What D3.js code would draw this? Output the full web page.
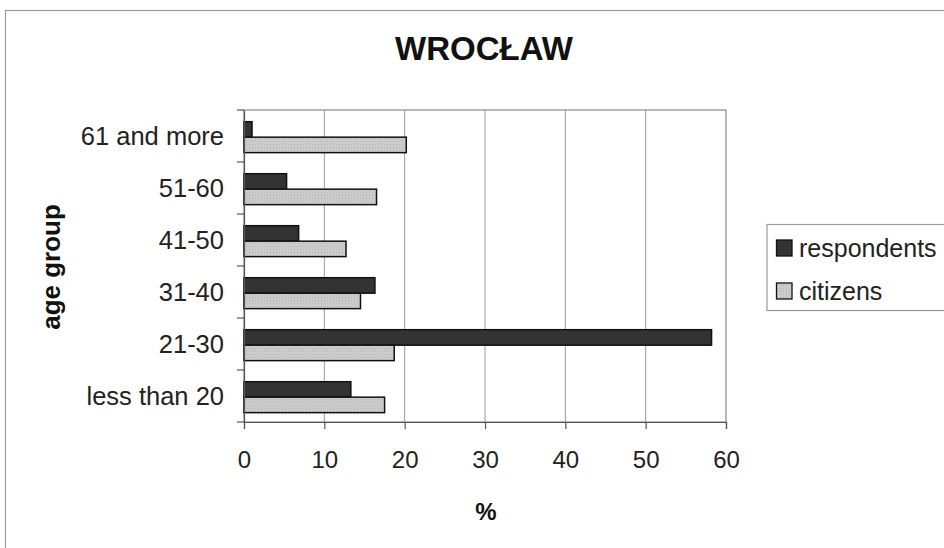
<!DOCTYPE html>
<html>
<head>
<meta charset="utf-8">
<script src="https://cdn.jsdelivr.net/npm/d3@7/dist/d3.min.js"></script>
<style>
  html, body { margin: 0; padding: 0; background: #fff; }
  text { font-family: "Liberation Sans", Arial, sans-serif; }
</style>
</head>
<body>
<svg id="chart" width="944" height="548"></svg>
<script>
const categories = ["less than 20", "21-30", "31-40", "41-50", "51-60", "61 and more"];
const seriesNames = ["respondents", "citizens"];
const respondents = [13.3, 58.2, 16.3, 6.8, 5.3, 1.0];
const citizens = [17.5, 18.7, 14.5, 12.7, 16.5, 20.2];
const xTicks = [0, 10, 20, 30, 40, 50, 60];
const title = "WROCŁAW";
const xTitle = "%";
const yTitle = "age group";

const svg = d3.select("#chart");
const plot = { left: 244, right: 726, top: 110, bottom: 422 };

// pattern for citizens
const defs = svg.append("defs");
const pat = defs.append("pattern").attr("id", "dots").attr("patternUnits", "userSpaceOnUse")
  .attr("width", 3).attr("height", 3);
pat.append("rect").attr("width", 3).attr("height", 3).attr("fill", "#cecece");
pat.append("rect").attr("x", 0).attr("y", 0).attr("width", 1).attr("height", 1).attr("fill", "#b0b0b0");
pat.append("rect").attr("x", 1.5).attr("y", 1.5).attr("width", 1).attr("height", 1).attr("fill", "#bdbdbd");

const colors = { respondents: "#333333", citizens: "url(#dots)" };

// outer frame
svg.append("rect").attr("x", 5.5).attr("y", 10.5).attr("width", 1000).attr("height", 600)
  .attr("fill", "none").attr("stroke", "#9a9a9a").attr("stroke-width", 1.2);

// title
svg.append("text").attr("x", 484).attr("y", 60).attr("text-anchor", "middle")
  .attr("font-size", 33).attr("font-weight", "bold").attr("fill", "#111").text(title);

const x = d3.scaleLinear().domain([0, 60]).range([plot.left, plot.right]);
const y0 = d3.scaleBand().domain(categories.slice().reverse()).range([plot.top, plot.bottom]).padding(0);
const bw = y0.bandwidth();
const y1 = d3.scaleBand().domain(seriesNames).range([bw * 0.225, bw * 0.82]).padding(0);

// gridlines
svg.append("g").selectAll("line").data(xTicks.filter(d => d > 0 && d < 60)).join("line")
  .attr("x1", d => x(d)).attr("x2", d => x(d)).attr("y1", plot.top).attr("y2", plot.bottom)
  .attr("stroke", "#9a9a9a").attr("stroke-width", 1);

// plot border
svg.append("rect").attr("x", plot.left).attr("y", plot.top)
  .attr("width", plot.right - plot.left).attr("height", plot.bottom - plot.top)
  .attr("fill", "none").attr("stroke", "#8a8a8a").attr("stroke-width", 1.2);

// bars
const rows = categories.map((c, i) => ({ cat: c, respondents: respondents[i], citizens: citizens[i] }));
const g = svg.append("g");
rows.forEach(r => {
  seriesNames.forEach(s => {
    g.append("rect")
      .attr("x", x(0))
      .attr("y", y0(r.cat) + y1(s))
      .attr("width", x(r[s]) - x(0))
      .attr("height", y1.bandwidth())
      .attr("fill", colors[s])
      .attr("stroke", "#111").attr("stroke-width", 1.5);
  });
});

// x axis
const xAxis = d3.axisBottom(x).tickValues(xTicks).tickSize(7).tickPadding(22).tickFormat(d3.format("d"));
const gx = svg.append("g").attr("transform", `translate(0,${plot.bottom})`).call(xAxis);
gx.select(".domain").attr("stroke", "#555").attr("stroke-width", 1.2);
gx.selectAll(".tick line").attr("stroke", "#555").attr("stroke-width", 1.2);
gx.selectAll(".tick text").attr("font-size", 24).attr("fill", "#222")
  .attr("font-family", "'Liberation Sans', Arial, sans-serif");

// y axis
const yAxis = d3.axisLeft(y0).tickSize(0).tickPadding(20);
const gy = svg.append("g").attr("transform", `translate(${plot.left},0)`).call(yAxis);
gy.select(".domain").attr("stroke", "#555").attr("stroke-width", 1.2);
gy.selectAll(".tick text").attr("font-size", 25.5).attr("fill", "#222").attr("dy", "0.36em")
  .attr("font-family", "'Liberation Sans', Arial, sans-serif");
// category boundary ticks
const bounds = categories.map((c) => y0(c)).concat([plot.bottom]);
svg.append("g").selectAll("line").data(bounds).join("line")
  .attr("x1", plot.left - 7).attr("x2", plot.left).attr("y1", d => d).attr("y2", d => d)
  .attr("stroke", "#555").attr("stroke-width", 1.2);

// axis titles
svg.append("text").attr("x", 486).attr("y", 520).attr("text-anchor", "middle")
  .attr("font-size", 24).attr("font-weight", "bold").attr("fill", "#111").text(xTitle);
svg.append("text").attr("transform", "translate(60,267) rotate(-90)").attr("text-anchor", "middle")
  .attr("font-size", 26).attr("font-weight", "bold").attr("fill", "#111").text(yTitle);

// legend
const lg = svg.append("g");
lg.append("rect").attr("x", 767).attr("y", 224.5).attr("width", 200).attr("height", 86)
  .attr("fill", "#fff").attr("stroke", "#9a9a9a").attr("stroke-width", 1.2);
seriesNames.forEach((s, i) => {
  const yy = 240 + i * 43;
  lg.append("rect").attr("x", 776.5).attr("y", yy).attr("width", 15.5).attr("height", 16)
    .attr("fill", colors[s]).attr("stroke", "#111").attr("stroke-width", 1.3);
  lg.append("text").attr("x", 799).attr("y", yy + 8).attr("dy", "0.36em")
    .attr("font-size", 25).attr("fill", "#222").text(s);
});
</script>
</body>
</html>
